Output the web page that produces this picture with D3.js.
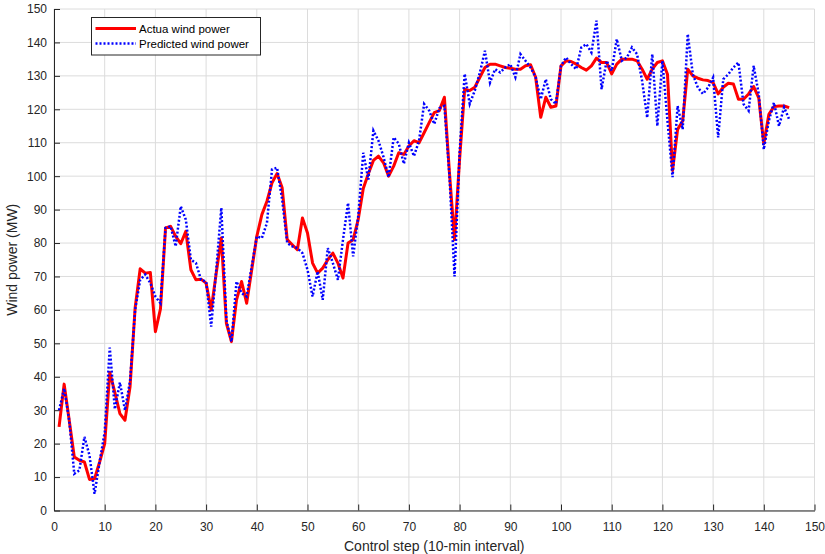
<!DOCTYPE html>
<html>
<head>
<meta charset="utf-8">
<script src="https://cdn.jsdelivr.net/npm/d3@7"></script>
<style>
  html, body { margin: 0; padding: 0; background: #fff; }
  svg { display: block; font-family: "Liberation Sans", Arial, Helvetica, sans-serif; }
</style>
</head>
<body>
<div id="chart"></div>
<script>
// values, one per control step (1..145)
const actualPower = [
  25, 37.8, 27, 16, 15, 14.5, 9.3, 9.5, 14.5, 20,
  41.3, 35.3, 29, 27, 37, 60.6, 72.3, 71, 71.2, 53.5,
  60.3, 84.5, 85, 82, 79.8, 83.5, 72, 69, 69.2, 68,
  60, 71, 81.5, 56, 50.5, 63, 68.5, 62, 72, 82,
  88.5, 92.5, 98, 100.8, 96.5, 81, 79.5, 78, 87.5, 83,
  74, 71, 72.5, 75, 77, 74, 69.5, 80, 81, 87,
  96.3, 100.7, 104.7, 106, 104, 100, 103, 107, 106.5, 109,
  110.6, 110, 113, 116, 119, 119.6, 123.6, 101, 81, 105,
  126, 125.6, 126.6, 129.6, 132.5, 133.5, 133.5, 133, 132.5, 132.3,
  132, 132, 133, 133.3, 129.6, 117.6, 123.6, 120.6, 121, 133,
  134.5, 134.3, 133.5, 132.5, 131.7, 133, 135.3, 134, 134, 130.6,
  133.5, 135, 135, 135, 134.5, 132, 129, 132, 134, 134.5,
  130.5, 101.7, 114, 116.5, 132, 130, 129.3, 128.8, 128.6, 128,
  124.6, 126.6, 127.8, 127.6, 123, 123, 124.6, 126.8, 123.4, 109.7,
  118.5, 120.8, 121, 121, 120.5
];

const predictedPower = [
  30, 36.5, 27, 11, 12, 22, 16.5, 5, 14.5, 23.5,
  48.7, 30.3, 38.3, 30, 38.8, 60, 69, 70.6, 68, 64,
  62, 84.5, 85, 79, 91, 87, 75, 74, 69, 68.5,
  55, 72, 90.5, 57, 50.5, 68.5, 65, 64, 73, 82,
  81.5, 86, 102, 102.5, 93, 80, 79, 78.5, 77, 72,
  64, 71.5, 63, 78.5, 74, 69, 81, 92, 76, 88,
  107, 99, 113.6, 110.6, 105.7, 99.7, 111.6, 109.7, 103.7, 110,
  106, 110.6, 121.6, 119.6, 115.6, 120.3, 121, 100, 70, 107,
  130.6, 121.6, 125.6, 131, 137.5, 128, 132, 131, 132.5, 133.5,
  129.6, 136.5, 134.5, 132.5, 129.6, 123, 129, 123, 121.6, 133,
  135.5, 133.5, 132, 138.5, 139.5, 137, 146.5, 126, 134.5, 131.5,
  141, 134.5, 135.5, 138.5, 136.5, 128.5, 117.5, 136.5, 115, 134.5,
  116.6, 99.7, 121, 114, 142.5, 130.5, 126.5, 124.6, 126.5, 129.5,
  111.6, 129, 130.5, 132.5, 134, 121.6, 119.6, 133, 124.6, 108,
  116.6, 122, 115, 120.6, 117
];

const steps = actualPower.map((_, i) => i + 1);

const xTicks = [0, 10, 20, 30, 40, 50, 60, 70, 80, 90, 100, 110, 120, 130, 140, 150];
const yTicks = [0, 10, 20, 30, 40, 50, 60, 70, 80, 90, 100, 110, 120, 130, 140, 150];

const seriesNames = ["Actua wind power", "Predicted wind power"];

const width = 825;
const height = 554;
const margin = { top: 9, right: 10.5, bottom: 43.5, left: 54 };
const axisColor = "#262626";

const svg = d3
  .select("#chart")
  .append("svg")
  .attr("width", width)
  .attr("height", height);

const x = d3
  .scaleLinear()
  .domain([0, 150])
  .range([margin.left, width - margin.right]);

const y = d3
  .scaleLinear()
  .domain([0, 150])
  .range([height - margin.bottom, margin.top]);

// grid
svg
  .append("g")
  .selectAll("line.vgrid")
  .data(xTicks)
  .join("line")
  .attr("x1", (d) => x(d))
  .attr("x2", (d) => x(d))
  .attr("y1", y(0))
  .attr("y2", y(150))
  .attr("stroke", "#dcdcdc")
  .attr("stroke-width", 1);

svg
  .append("g")
  .selectAll("line.hgrid")
  .data(yTicks)
  .join("line")
  .attr("x1", x(0))
  .attr("x2", x(150))
  .attr("y1", (d) => y(d))
  .attr("y2", (d) => y(d))
  .attr("stroke", "#dcdcdc")
  .attr("stroke-width", 1);

// axes (ticks point inwards like matlab)
const xAxis = svg
  .append("g")
  .attr("transform", `translate(0,${y(0)})`)
  .call(d3.axisBottom(x).tickValues(xTicks).tickSizeInner(-6).tickSizeOuter(0).tickPadding(12));

const yAxis = svg
  .append("g")
  .attr("transform", `translate(${x(0)},0)`)
  .call(d3.axisLeft(y).tickValues(yTicks).tickSizeInner(-6).tickSizeOuter(0).tickPadding(7));

[xAxis, yAxis].forEach((g) => {
  g.select(".domain").attr("stroke", axisColor).attr("stroke-width", 1);
  g.selectAll(".tick line").attr("stroke", axisColor);
  g.selectAll(".tick text")
    .attr("fill", axisColor)
    .style("font-size", "12px")
    .style("font-family", "'Liberation Sans', Arial, sans-serif");
});

// axis titles
svg
  .append("text")
  .attr("x", (x(0) + x(150)) / 2)
  .attr("y", 551)
  .attr("text-anchor", "middle")
  .attr("fill", axisColor)
  .style("font-size", "14px")
  .text("Control step (10-min interval)");

svg
  .append("text")
  .attr("transform", `translate(17,${(y(0) + y(150)) / 2}) rotate(-90)`)
  .attr("text-anchor", "middle")
  .attr("fill", axisColor)
  .style("font-size", "14px")
  .text("Wind power (MW)");

// lines
const line = d3
  .line()
  .x((d) => x(d[0]))
  .y((d) => y(d[1]));

svg
  .append("path")
  .datum(steps.map((s, i) => [s, actualPower[i]]))
  .attr("fill", "none")
  .attr("stroke", "#ff0000")
  .attr("stroke-width", 3)
  .attr("stroke-linejoin", "round")
  .attr("d", line);

svg
  .append("path")
  .datum(steps.map((s, i) => [s, predictedPower[i]]))
  .attr("fill", "none")
  .attr("stroke", "#0000ff")
  .attr("stroke-width", 2.5)
  .attr("stroke-dasharray", "2,2")
  .attr("d", line);

// legend
const legend = svg.append("g").attr("transform", "translate(91.5,17.5)");

legend
  .append("rect")
  .attr("width", 169)
  .attr("height", 37.5)
  .attr("fill", "#fff")
  .attr("stroke", axisColor)
  .attr("stroke-width", 1);

const legendStyles = [
  { color: "#ff0000", width: 3, dash: null },
  { color: "#0000ff", width: 2.5, dash: "2,2" },
];

seriesNames.forEach((name, i) => {
  const ly = 11 + i * 15;
  legend
    .append("line")
    .attr("x1", 4)
    .attr("x2", 44.5)
    .attr("y1", ly)
    .attr("y2", ly)
    .attr("stroke", legendStyles[i].color)
    .attr("stroke-width", legendStyles[i].width)
    .attr("stroke-dasharray", legendStyles[i].dash);
  legend
    .append("text")
    .attr("x", 47.5)
    .attr("y", ly + 4)
    .attr("fill", "#000")
    .style("font-size", "11.5px")
    .text(name);
});
</script>
</body>
</html>
